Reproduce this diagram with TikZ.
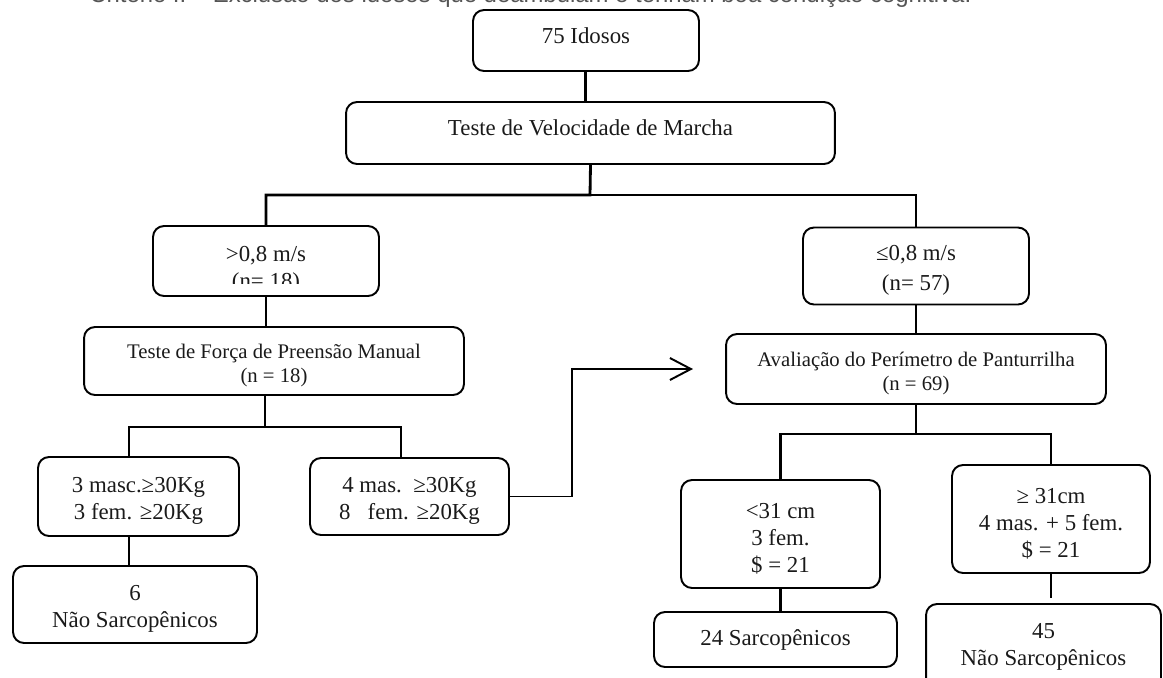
\documentclass[tikz,border=0pt]{standalone}
\usepackage{fontspec}
\setmainfont{Liberation Serif}
\newfontfamily\capfont{Liberation Sans}
\usetikzlibrary{arrows.meta}
\definecolor{ink}{HTML}{1A1A1A}
\definecolor{capgray}{HTML}{555555}
\newcommand{\bigfs}{\fontsize{13}{15.4}\selectfont}
\newcommand{\smallfs}{\fontsize{11.8}{13.7}\selectfont}
\newcommand{\dn}{\rule{0pt}{0.48cm}}
\newcommand{\upw}{\rule[-0.2cm]{0pt}{0.2cm}}
\tikzset{
  box/.style={draw=black, line width=1.1pt, rounded corners=0.22cm, align=center,
              inner sep=0pt, text=ink, font=\bigfs},
  txt/.style={align=center, inner sep=0pt, text=ink, font=\bigfs},
  conn/.style={line width=1.6pt, black},
  arr/.style={line width=1.1pt, black, -{Straight Barb[length=0.42cm,width=0.44cm,line width=1.1pt]}}
}
\begin{document}
\begin{tikzpicture}[x=0.02cm,y=-0.02cm]
\useasboundingbox (0,0) rectangle (1163,677);
% partially visible caption at the top edge
\node[anchor=base west, inner sep=0pt, text=capgray, font=\capfont\fontsize{13.6}{16}\selectfont] (cap) at (89,2.5)
  {Critério II – Exclusão dos idosos que deambulam e tenham boa condição cognitiva.};
% boxes
\node[box, minimum width=4.52cm, minimum height=1.22cm] (b1) at (586,40.5) {75 Idosos\upw};
\node[box, minimum width=9.78cm, minimum height=1.24cm] (b2) at (590.5,133) {Teste de Velocidade de Marcha\upw};
\node[box, minimum width=4.52cm, minimum height=1.40cm] (b3) at (266,261) {};
\begin{scope}
  \clip (150,226) rectangle (390,283);
  \node[txt] (b3t) at (266,270) {>0,8 m/s\\(n= 18)};
\end{scope}
\node[box, minimum width=4.52cm, minimum height=1.54cm, font=\fontsize{13}{17}\selectfont] (b5) at (916,266) {\dn≤0,8 m/s\\(n= 57)};
\node[box, minimum width=7.60cm, minimum height=1.36cm, font=\smallfs] (b4) at (274,361) {\dn Teste de Força de Preensão Manual\\(n = 18)};
\node[box, minimum width=7.60cm, minimum height=1.40cm, font=\smallfs] (b6) at (916,369) {\dn Avaliação do Perímetro de Panturrilha\\(n = 69)};
\node[box, minimum width=4.02cm, minimum height=1.58cm] (b7) at (138.5,496.5) {\dn 3 masc.≥30Kg\\3 fem. ≥20Kg};
\node[box, minimum width=3.98cm, minimum height=1.54cm] (b8) at (409.5,496.5) {\dn 4 mas.\ \ ≥30Kg\\8\ \ \ fem. ≥20Kg};
\node[box, minimum width=4.88cm, minimum height=1.54cm] (b9) at (135,604.5) {\dn 6\\Não Sarcopênicos};
\node[box, minimum width=3.98cm, minimum height=2.16cm] (b10) at (780.5,534) {\dn<31 cm\\3 fem.\\\$ = 21};
\node[box, minimum width=3.96cm, minimum height=2.16cm] (b11) at (1051,519) {\dn≥ 31cm\\4 mas. + 5 fem.\\\$ = 21};
\node[box, minimum width=4.86cm, minimum height=1.10cm] (b12) at (775.5,639.5) {24 Sarcopênicos};
\node[box, minimum width=4.70cm, minimum height=1.72cm] (b13) at (1043.5,647) {};
\node[txt] (b13t) at (1043.5,647) {45\\Não Sarcopênicos};
% junction points
\coordinate (r1) at (590,195);
\coordinate (r2) at (265,427);
\coordinate (r3) at (916,434);
\coordinate (ak) at (572,369);
\coordinate (atip) at (693,369);
% connectors
\draw[conn] ([xshift=-0.01cm]b1.south) -- ([xshift=-0.01cm]b1.south |- b2.north);
\draw[conn] (b2.south) -- (r1) -| (b3.north);
\draw[conn] (r1) -| (b5.north);
\draw[conn] (b3.south) -- (b3.south |- b4.north);
\draw[conn] (r2 |- b4.south) -- (r2) -| ([xshift=-0.19cm]b7.north);
\draw[conn] (r2) -| ([xshift=-0.17cm]b8.north);
\draw[conn] ([xshift=-0.19cm]b7.south) -- ([xshift=-0.19cm]b7.south |- b9.north);
\draw[conn] (b5.south) -- (b6.north);
\draw[conn] (b6.south) -- (r3) -| (b10.north);
\draw[conn] (r3) -| (b11.north);
\draw[conn] (b10.south) -- (b10.south |- b12.north);
\draw[conn] (b11.south) -- ++(0,24);
\draw[arr] (b8.east) -| (ak) -- (atip);
\end{tikzpicture}
\end{document}
